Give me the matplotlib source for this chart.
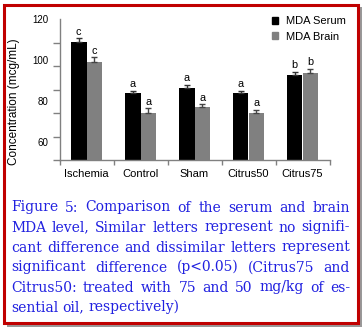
import numpy as np
import matplotlib
matplotlib.use("Agg")
import matplotlib.pyplot as plt
from matplotlib.patches import Rectangle, Patch

# ── data ──────────────────────────────────────────────────────────────────
groups = ["Ischemia", "Control", "Sham", "Citrus50", "Citrus75"]
serum = [108.8, 83.7, 86.1, 83.8, 92.6]
serum_err = [1.8, 1.1, 1.6, 1.0, 1.6]
brain = [99.1, 74.0, 77.0, 73.9, 93.6]
brain_err = [2.2, 2.3, 1.3, 1.6, 2.1]
serum_letters = ["c", "a", "a", "a", "b"]
brain_letters = ["c", "a", "a", "a", "b"]
yticks = [60, 80, 100, 120]

caption_lines = [
    "Figure 5: Comparison of the serum and brain",
    "MDA level, Similar letters represent no signifi-",
    "cant difference and dissimilar letters represent",
    "significant difference (p<0.05) (Citrus75 and",
    "Citrus50: treated with 75 and 50 mg/kg of es-",
    "sential oil, respectively)",
]

W, H = 364, 329
fig = plt.figure(figsize=(W / 100, H / 100), dpi=100)


def fx(px):
    return px / W


def fy(py):
    return 1 - py / H


# ── frame with drop shadow ────────────────────────────────────────────────
fig.patches.append(Rectangle((fx(7), fy(327)), fx(355), 320 / H,
                             transform=fig.transFigure, facecolor="#999999",
                             edgecolor="none", zorder=-3))
fig.patches.append(Rectangle((fx(3.5), fy(322.5)), fx(354), 318 / H,
                             transform=fig.transFigure, facecolor="white",
                             edgecolor="#c00000", linewidth=2.2, zorder=-2))

# ── chart ─────────────────────────────────────────────────────────────────
ax = fig.add_axes([fx(59.5), fy(160), fx(270), 141 / H])
ax.set_facecolor("none")
x = np.arange(len(groups))
w = 0.288
ymin = 51.1

ax.bar(x - w / 2, serum, w, bottom=0, color="black", zorder=2)
ax.bar(x + w / 2, brain, w, bottom=0, color="#808080", zorder=2)
ax.errorbar(x - w / 2, serum, yerr=[np.zeros(5), serum_err], fmt="none",
            ecolor="#333333", elinewidth=1, capsize=2.2, capthick=1, zorder=3)
ax.errorbar(x + w / 2, brain, yerr=[np.zeros(5), brain_err], fmt="none",
            ecolor="#444444", elinewidth=1, capsize=2.2, capthick=1, zorder=3)

for xi, v, e, s in zip(x - w / 2, serum, serum_err, serum_letters):
    ax.annotate(s, (xi, v + e), xytext=(0, 1.2), textcoords="offset points",
                ha="center", va="bottom", fontsize=7.8, family="Liberation Sans")
for xi, v, e, s in zip(x + w / 2, brain, brain_err, brain_letters):
    ax.annotate(s, (xi, v + e), xytext=(0, 1.2), textcoords="offset points",
                ha="center", va="bottom", fontsize=7.8, family="Liberation Sans")

ax.set_xlim(-0.5, len(groups) - 0.5)
ax.set_ylim(ymin, 120)

for side in ["top", "right"]:
    ax.spines[side].set_visible(False)
for side in ["left", "bottom"]:
    ax.spines[side].set_color("#808080")
    ax.spines[side].set_linewidth(1)

ax.set_xticks(x)
ax.set_xticklabels(groups, fontsize=8, family="Liberation Sans")
ax.set_xticks(np.arange(-0.5, len(groups)), minor=True)
ax.tick_params(axis="x", which="major", length=0, pad=6.5)
ax.tick_params(axis="x", which="minor", length=3.5, color="#808080", width=1)

ax.set_yticks(yticks)
ax.set_yticklabels([str(t) for t in yticks], fontsize=7, family="Liberation Sans")
ax.set_yticks(np.linspace(ymin, 120, 7), minor=True)
ax.tick_params(axis="y", which="major", length=0, pad=8)
ax.tick_params(axis="y", which="minor", length=5, color="#808080", width=1)

ax.set_ylabel("Concentration (mcg/mL)", fontsize=8.5, family="Liberation Sans")
ax.yaxis.set_label_coords((20 - 59.5) / 270, (160 - 102) / 141)

ax.legend(handles=[Patch(color="black", label="MDA Serum"),
                   Patch(color="#808080", label="MDA Brain")],
          loc="upper left", bbox_to_anchor=(fx(271.5), fy(16.5)),
          bbox_transform=fig.transFigure, frameon=False,
          prop={"family": "Liberation Sans", "size": 8},
          handlelength=0.6, handleheight=0.6, handletextpad=0.7,
          labelspacing=0.45, borderpad=0, borderaxespad=0)

# ── justified caption ─────────────────────────────────────────────────────
cap_kw = dict(fontsize=10, family="DejaVu Serif", color="#2020e0",
              va="baseline", ha="left")
left_px, right_px = 11, 350
renderer = fig.canvas.get_renderer()


def text_width(s):
    t = fig.text(0, 0, s, **cap_kw)
    wpx = t.get_window_extent(renderer).width
    t.remove()
    return wpx


space_w = text_width("a a") - text_width("aa")
for i, line in enumerate(caption_lines):
    base = 211.5 + 20 * i
    words = line.split(" ")
    widths = [text_width(wd) for wd in words]
    if i < len(caption_lines) - 1 and len(words) > 1:
        gap = (right_px - left_px - sum(widths)) / (len(words) - 1)
    else:
        gap = space_w
    xpos = left_px
    for wd, wpx in zip(words, widths):
        fig.text(fx(xpos), fy(base), wd, **cap_kw)
        xpos += wpx + gap

fig.savefig("out.png", dpi=100)
